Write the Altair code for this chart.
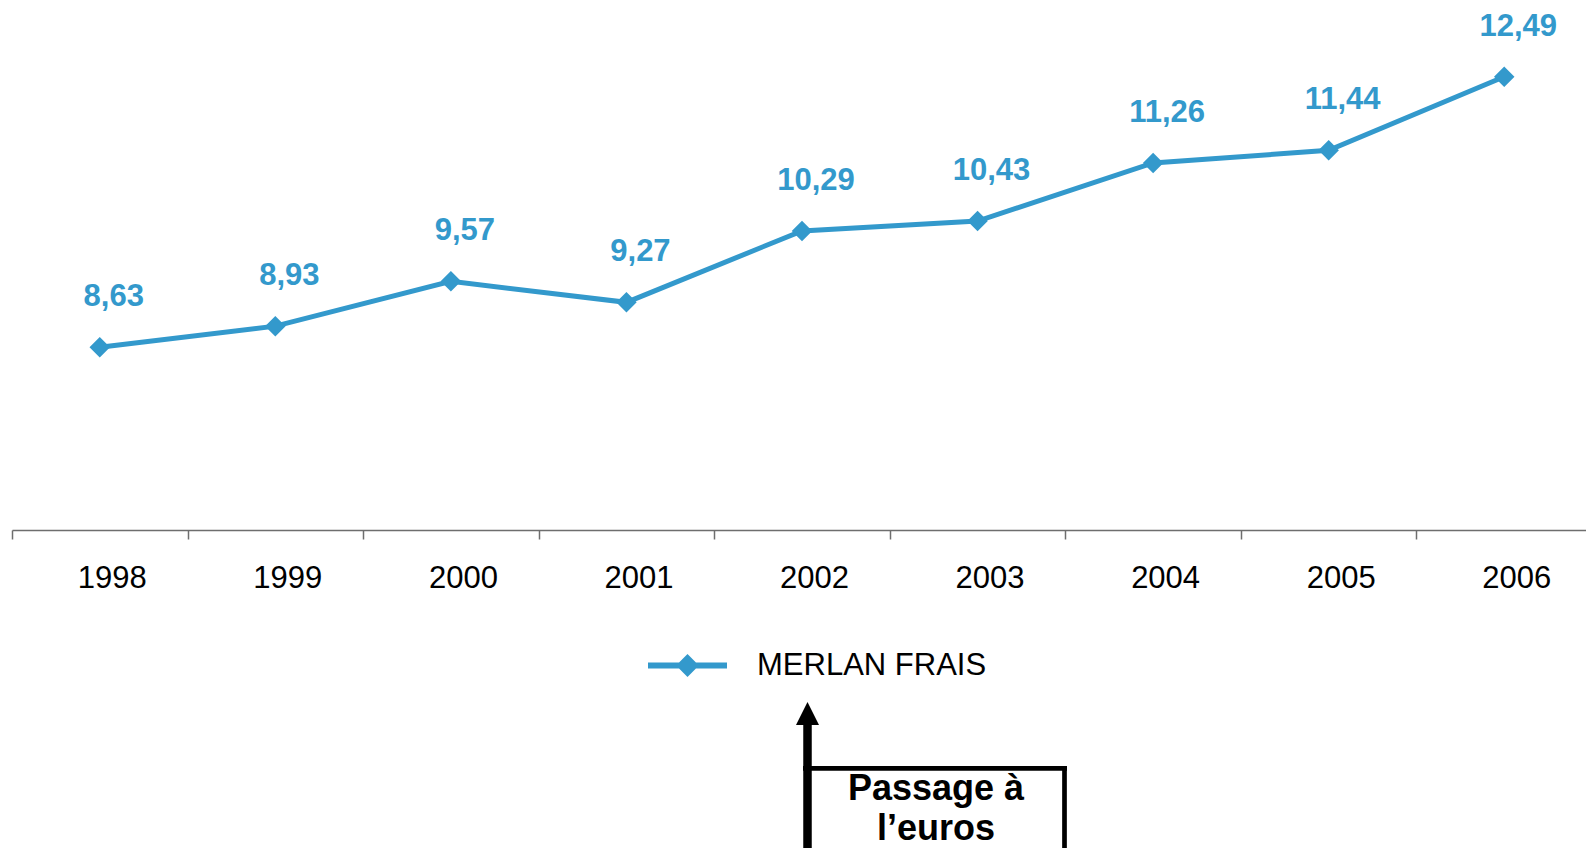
import altair as alt
import pandas as pd

years = ["1998", "1999", "2000", "2001", "2002", "2003", "2004", "2005", "2006"]
prices = [8.63, 8.93, 9.57, 9.27, 10.29, 10.43, 11.26, 11.44, 12.49]
value_labels = ["8,63", "8,93", "9,57", "9,27", "10,29", "10,43", "11,26", "11,44", "12,49"]
series_name = "MERLAN FRAIS"
euro_year = "2002"
annotation_lines = ["Passage à", "l’euros"]

BLUE = "#3399CC"
FONT = "Liberation Sans"
AXIS_GREY = "#6e6e6e"

df = pd.DataFrame({"year": years, "price": prices, "label": value_labels,
                   "series": [series_name] * len(years)})
euro_df = pd.DataFrame({"year": [euro_year]})

x_scale = alt.Scale(type="band", paddingInner=0, paddingOuter=0, range=[0, 1580])
x_enc = alt.X(
    "year:N", sort=years, scale=x_scale,
    axis=alt.Axis(title=None, labelAngle=0, labelFont=FONT, labelFontSize=31,
                  labelColor="black", labelOffset=12, labelPadding=48,
                  labelBaseline="alphabetic", tickBand="extent", tickSize=9,
                  tickColor=AXIS_GREY, tickWidth=1.5, domainColor=AXIS_GREY,
                  domainWidth=1.5, grid=False),
)
y_enc = alt.Y("price:Q", scale=alt.Scale(domain=[6.02, 13.472], nice=False, zero=False),
              axis=None)

legend_path = ("M-1,-0.076L-0.214,-0.076L0,-0.29L0.214,-0.076L1,-0.076L1,0.076"
               "L0.214,0.076L0,0.29L-0.214,0.076L-1,0.076Z")

base = alt.Chart(df)

line = base.mark_line(color=BLUE, strokeWidth=5).encode(x=x_enc, y=y_enc)

points = base.mark_point(shape="diamond", filled=True, size=420, opacity=1).encode(
    x=x_enc, y=y_enc,
    color=alt.Color("series:N", scale=alt.Scale(range=[BLUE]),
                    legend=alt.Legend(title=None, orient="none", legendX=636, legendY=618,
                                      padding=0, symbolType=legend_path, symbolSize=6241,
                                      symbolStrokeWidth=0, symbolFillColor=BLUE,
                                      labelFont=FONT, labelFontSize=31, labelColor="black",
                                      labelOffset=30, labelLimit=600)),
)

labels = base.mark_text(dx=14, dy=-41, baseline="alphabetic", align="center",
                        font=FONT, fontSize=31, fontWeight="bold", color=BLUE).encode(
    x=x_enc, y=y_enc, text="label:N")

euro = alt.Chart(euro_df)
arrow_shaft = euro.mark_rule(color="black", strokeWidth=8.5, xOffset=5.5).encode(
    x=alt.X("year:N", sort=years, scale=x_scale), y=alt.value(717), y2=alt.value(900))
arrow_head = euro.mark_point(shape="M0,-1L1,1L-1,1Z", size=529, filled=True, opacity=1,
                             color="black", xOffset=5.5).encode(
    x=alt.X("year:N", sort=years, scale=x_scale), y=alt.value(705.5))

box_top = euro.mark_rule(color="black", strokeWidth=4.7).encode(
    x=alt.value(791), x2=alt.value(1055), y=alt.value(760.3))
box_right = euro.mark_rule(color="black", strokeWidth=4.7).encode(
    x=alt.value(1052.5), y=alt.value(758), y2=alt.value(900))

text1 = euro.mark_text(font=FONT, fontSize=36, fontWeight="bold", color="black",
                       align="center", baseline="alphabetic").encode(
    x=alt.value(924), y=alt.value(792), text=alt.value(annotation_lines[0]))
text2 = euro.mark_text(font=FONT, fontSize=36, fontWeight="bold", color="black",
                       align="center", baseline="alphabetic").encode(
    x=alt.value(924), y=alt.value(832), text=alt.value(annotation_lines[1]))

chart = alt.layer(line, points, labels, arrow_shaft, arrow_head, box_top, box_right,
                  text1, text2).properties(
    width=1574, height=522,
    autosize=alt.AutoSizeParams(type="none"),
    padding={"left": 4, "top": 0, "right": 0, "bottom": 318},
).configure_view(stroke=None)

chart.save("out.html", embed_options={"renderer": "svg", "actions": False})
